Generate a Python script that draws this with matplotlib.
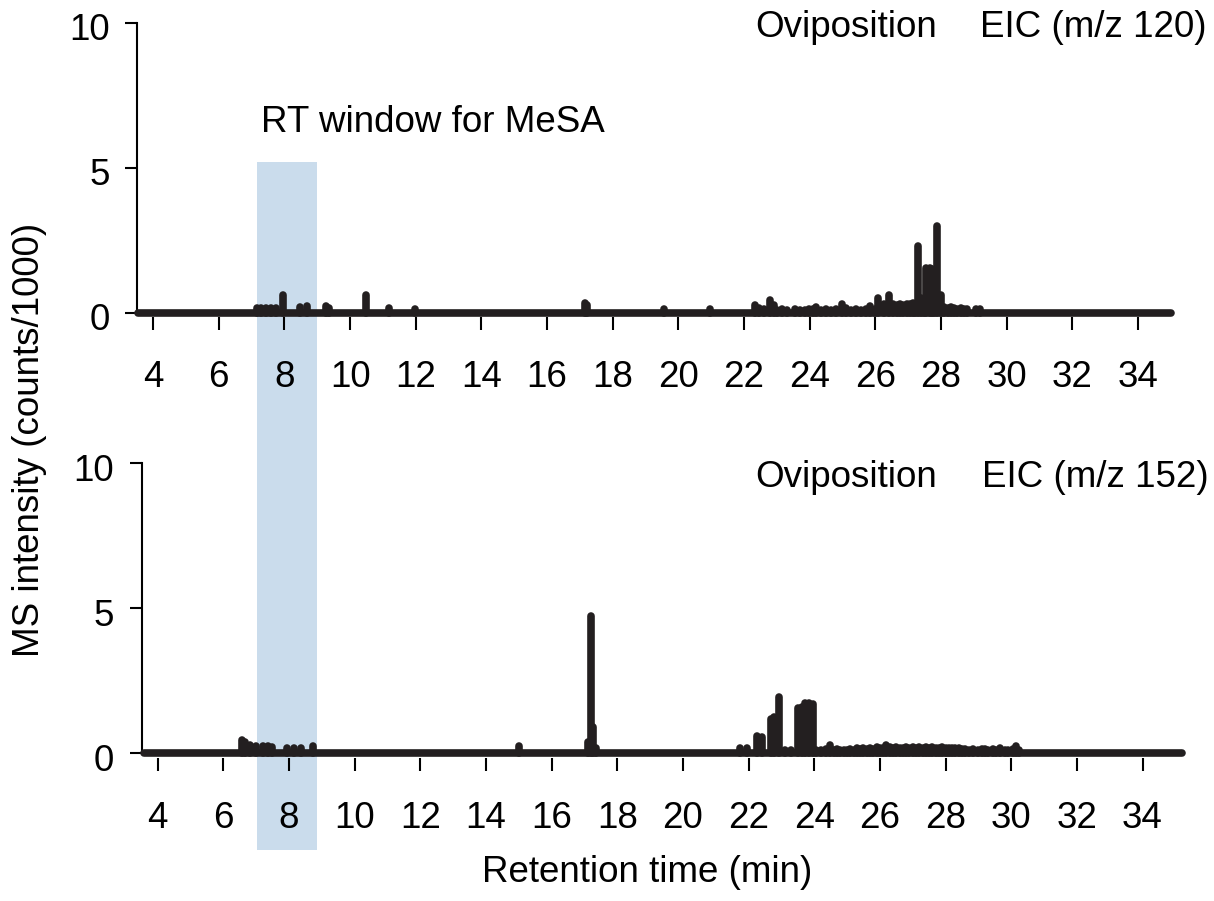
import matplotlib.pyplot as plt
from matplotlib.patches import Rectangle
from matplotlib.transforms import blended_transform_factory, ScaledTranslation

plt.rcParams["font.family"] = ["Liberation Sans", "DejaVu Sans"]

# EIC m/z 120, oviposition sample: RT (min) and intensity (counts/1000)
rt_120 = [7.15, 7.3, 7.45, 7.6, 7.75, 7.97, 8.48, 8.69, 9.26, 9.35,
          10.49, 11.18, 11.97, 17.15, 17.22, 19.56, 20.96,
          22.33, 22.45, 22.6, 22.79, 22.9, 23.0, 23.15, 23.3, 23.56, 23.7,
          23.85, 23.98, 24.09, 24.19, 24.35, 24.5, 24.65, 24.8, 24.98, 25.1,
          25.25, 25.4, 25.55, 25.7, 25.85,
          26.0, 26.08, 26.25, 26.43, 26.55, 26.65, 26.75, 26.85, 26.95, 27.05,
          27.15, 27.22, 27.31, 27.4, 27.48, 27.55, 27.65, 27.72, 27.8, 27.87,
          27.99, 28.1, 28.2, 28.3, 28.4, 28.5, 28.6, 28.7, 28.8, 29.07,
          29.19]
int_120 = [0.15, 0.17, 0.15, 0.17, 0.15, 0.6, 0.2, 0.22, 0.22, 0.15,
           0.62, 0.15, 0.12, 0.35, 0.25, 0.13, 0.13,
           0.25, 0.15, 0.12, 0.43, 0.25, 0.1, 0.12, 0.1, 0.12, 0.1,
           0.1, 0.12, 0.12, 0.2, 0.1, 0.12, 0.1, 0.12, 0.3, 0.15,
           0.1, 0.12, 0.1, 0.12, 0.22,
           0.12, 0.52, 0.3, 0.6, 0.3, 0.25, 0.3, 0.28, 0.3, 0.3,
           0.32, 0.25, 2.3, 0.5, 0.4, 1.55, 1.55, 1.5, 0.5, 3.0,
           0.6, 0.2, 0.15, 0.18, 0.15, 0.12, 0.15, 0.12, 0.12, 0.13,
           0.13]

# EIC m/z 152, oviposition sample
rt_152 = [6.57, 6.65, 6.8, 7.0, 7.2, 7.35, 7.5, 7.95, 8.15, 8.36,
          8.74, 15.0, 17.1, 17.19, 17.27, 17.35, 21.75, 21.94, 22.25, 22.4,
          22.67, 22.79, 22.93, 23.1, 23.3, 23.52, 23.62, 23.72, 23.85, 23.97,
          24.06, 24.2, 24.35, 24.48, 24.6, 24.7, 24.8, 24.9, 25.0, 25.1,
          25.2, 25.3, 25.4, 25.5, 25.6, 25.7, 25.8, 25.9, 26.0, 26.1,
          26.2, 26.3, 26.4, 26.5, 26.6, 26.7, 26.8, 26.9, 27.0, 27.1,
          27.2, 27.3, 27.4, 27.5, 27.6, 27.7, 27.8, 27.9, 28.0, 28.1,
          28.2, 28.3, 28.4, 28.5, 28.6, 28.7, 28.85, 29.0, 29.1, 29.2,
          29.3, 29.45, 29.55, 29.65, 29.8, 29.9, 30.05, 30.16, 30.25]
int_152 = [0.45, 0.4, 0.3, 0.25, 0.25, 0.25, 0.22, 0.2, 0.2, 0.18,
           0.25, 0.25, 0.4, 4.75, 0.9, 0.2, 0.18, 0.18, 0.6, 0.55,
           1.2, 1.25, 1.95, 0.1, 0.1, 1.55, 1.6, 1.75, 1.75, 1.7,
           0.1, 0.12, 0.15, 0.3, 0.12, 0.15, 0.1, 0.12, 0.1, 0.15,
           0.12, 0.18, 0.15, 0.2, 0.15, 0.18, 0.15, 0.22, 0.18, 0.2,
           0.3, 0.22, 0.2, 0.22, 0.18, 0.2, 0.22, 0.2, 0.22, 0.2,
           0.22, 0.2, 0.22, 0.2, 0.22, 0.2, 0.2, 0.22, 0.18, 0.2,
           0.2, 0.18, 0.2, 0.15, 0.15, 0.12, 0.15, 0.12, 0.15, 0.15,
           0.12, 0.15, 0.12, 0.18, 0.1, 0.12, 0.15, 0.25, 0.12]

# acquisition range of each trace (min)
run_120 = [3.55, 35.0]
run_152 = [3.6, 35.2]

x_ticks = list(range(4, 35, 2))
y_ticks = [0, 5, 10]
mesa_window = (7.17, 9.0)

trace_color = "#231f20"
band_color = "#cadcec"
fs = 26.5

W, H = 1214, 901
fig = plt.figure(figsize=(W / 100, H / 100), dpi=100)


def px_axes(left, top, right, bottom):
    return fig.add_axes([left / W, 1 - bottom / H, (right - left) / W, (bottom - top) / H])


def fig_text(x, y, s, **kw):
    fig.text(x / W, 1 - y / H, s, fontsize=fs, **kw)


ax_top = px_axes(137, 22.7, 1180.7, 317.05)
ax_bot = px_axes(141.5, 463.3, 1185.2, 757.65)

for ax, rt, inten, run in [(ax_top, rt_120, int_120, run_120),
                           (ax_bot, rt_152, int_152, run_152)]:
    ax.set_facecolor("none")
    ax.plot(run, [0, 0], color=trace_color, lw=5.5,
            solid_capstyle="round", clip_on=False, zorder=3)
    ax.vlines(rt, 0, inten, colors=trace_color, linewidth=5.5,
              capstyle="round", clip_on=False, zorder=3)
    ax.set_xlim(3.51, 35.3)
    ax.set_ylim(-0.15, 10)
    for side in ["top", "right", "bottom"]:
        ax.spines[side].set_visible(False)
    ax.spines["left"].set_bounds(0, 10)
    ax.spines["left"].set_linewidth(1.5)
    ax.set_xticks(x_ticks)
    ax.set_yticks(y_ticks)
    ax.tick_params(axis="x", length=9, width=1.5, pad=22, labelsize=fs)
    ax.tick_params(axis="y", length=8.6, width=1.5, pad=11, labelsize=fs)
    for lab in ax.get_yticklabels():
        lab.set_transform(lab.get_transform() + ScaledTranslation(0, -0.04, fig.dpi_scale_trans))

# retention-time window for MeSA spanning both panels
band_tr = blended_transform_factory(ax_top.transData, fig.transFigure)
fig.add_artist(Rectangle((mesa_window[0], 1 - 850 / H), mesa_window[1] - mesa_window[0],
                         (850 - 162.3) / H, transform=band_tr,
                         facecolor=band_color, edgecolor="none", zorder=-1))

fig_text(261, 132, "RT window for MeSA", va="baseline")
fig_text(755, 37, "Oviposition", va="baseline")
fig_text(980, 37, "EIC (m/z 120)", va="baseline")
fig_text(755, 486.7, "Oviposition", va="baseline")
fig_text(981.7, 486.7, "EIC (m/z 152)", va="baseline")
fig_text(646.7, 881.7, "Retention time (min)", ha="center", va="baseline")
fig_text(30, 440, "MS intensity (counts/1000)", rotation=90, ha="center", va="center")

fig.savefig("out.png", dpi=100)
